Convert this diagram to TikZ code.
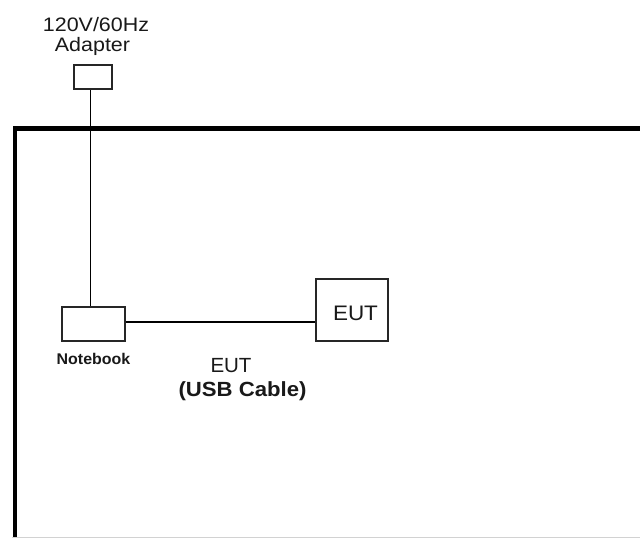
\documentclass[tikz,border=0pt]{standalone}
\usepackage{fontspec}
\setmainfont{Liberation Sans}
\usepackage{graphicx}
\newcommand{\lbltxt}[3]{\scalebox{#2}[1]{\fontsize{#1}{#1}\selectfont #3}}
\tikzset{
  boxnode/.style={draw=black!85, line width=2pt, fill=white, inner sep=0pt},
  wire/.style={draw=black, line width=1.5pt},
  frame/.style={draw=black, line width=4.6pt, line join=miter},
  lbl/.style={anchor=base, inner sep=0pt, text=black!90}
}
\begin{document}
\begin{tikzpicture}[x=1pt, y=-1pt]
\useasboundingbox (0,0) rectangle (640,538);
\fill[white] (0,0) rectangle (640,538);
% outer frame (room)
\draw[frame] (15,560) -- (15,128.4) -- (660,128.4);
\draw[gray!35, line width=1pt] (12,537.5) -- (640,537.5);
% helper coordinates
\coordinate (cx) at (90.5,0);
\coordinate (cy) at (0,322);
% boxes
\node[boxnode, minimum width=38.6pt, minimum height=24pt] (adapter) at (93,77) {};
\node[boxnode, minimum width=63pt, minimum height=34.3pt] (notebook) at (93.2,324.2) {};
\node[boxnode, minimum width=72pt, minimum height=62pt] (eut) at (352,310) {};
% connectors
\draw[wire] (adapter.south -| cx) -- (notebook.north -| cx);
\draw[wire] (notebook.east |- cy) -- (eut.west |- cy);
% labels
\node[lbl] (adlbl1) at (96,31) {\lbltxt{19.5}{1.1}{120V/60Hz}};
\node[lbl] (adlbl2) at (92.5,51) {\lbltxt{19.5}{1.1}{Adapter}};
\node[lbl] (nblbl) at (93.5,364.5) {\lbltxt{15.5}{1.03}{\bfseries Notebook}};
\node[lbl] (euttext) at (355.5,320) {\lbltxt{21}{1.07}{EUT}};
\node[lbl] (cablbl1) at (231,372.5) {\lbltxt{20.5}{1.0}{EUT}};
\node[lbl] (cablbl2) at (242.5,396.5) {\lbltxt{20.5}{1.08}{\bfseries (USB Cable)}};
\end{tikzpicture}
\end{document}
